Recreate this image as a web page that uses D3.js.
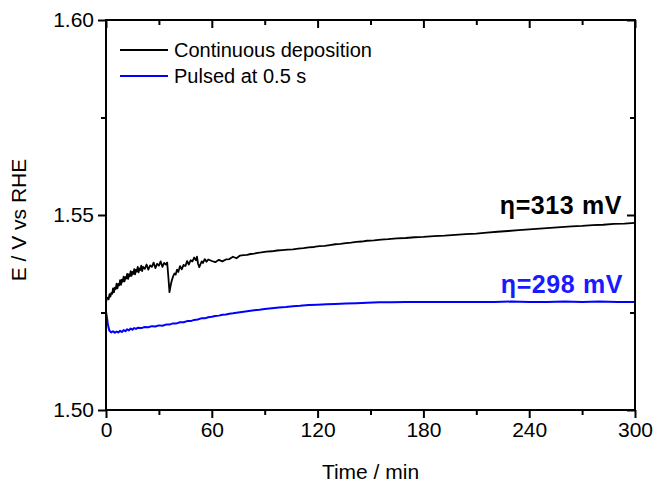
<!DOCTYPE html>
<html>
<head>
<meta charset="utf-8">
<script src="https://cdn.jsdelivr.net/npm/d3@7"></script>
<style>
  body { margin: 0; background: #fff; }
  svg text { font-family: "Liberation Sans", Arial, sans-serif; }
</style>
</head>
<body>
<div id="chart"></div>
<script>
// continuous deposition (black)
const contTime = [0,0.5,1,1.5,2,2.5,3,3.5,4,4.5,5,5.5,6,6.5,7,7.5,8,8.5,9,9.5,10,10.5,11,11.5,12,12.5,13,13.5,14,14.5,
  15,15.5,16,16.5,17,17.5,18,18.5,19,19.5,20,20.5,21,22,23,24,25,26,27,28,29,30,31,32,33,34,34.7,35.3,36,36.6,
  37.2,38,38.8,39.5,40.3,41,42,43,44,45,46,47,48,49,50,51,51.6,52.2,52.9,53.6,54.3,55,56,57,58,60,62,64,66,68,
  70,72,74,76,78,80,82,84,86,88,91,94,97,100,103,106,109,112,115,118,121,124,127,130,133,136,139,142,145,148,
  152,156,160,165,170,175,180,186,192,198,204,210,216,222,228,234,240,246,252,258,264,270,276,282,288,294,300];
const contE = [1.5277,1.5286,1.5288,1.5284,1.5297,1.5291,1.5300,1.5298,1.5312,1.5302,1.5314,1.5310,1.5324,1.5312,1.5323,1.5320,1.5333,1.5321,1.5334,1.5329,
  1.5342,1.5330,1.5341,1.5337,1.5349,1.5336,1.5348,1.5343,1.5356,1.5344,1.5354,1.5349,1.5361,1.5348,1.5360,1.5355,1.5367,1.5353,1.5363,1.5359,
  1.5370,1.5356,1.5367,1.5362,1.5373,1.5360,1.5371,1.5367,1.5378,1.5364,1.5375,1.5370,1.5381,1.5367,1.5377,1.5373,1.5378,1.5345,1.5302,1.5318,
  1.5330,1.5342,1.5350,1.5347,1.5360,1.5354,1.5369,1.5361,1.5372,1.5369,1.5382,1.5373,1.5384,1.5381,1.5391,1.5384,1.5393,1.5375,1.5366,1.5374,
  1.5381,1.5377,1.5387,1.5380,1.5386,1.5382,1.5379,1.5385,1.5381,1.5386,1.5387,1.5393,1.5389,1.5396,1.5397,1.5398,1.5400,1.5401,1.5403,1.5404,
  1.5406,1.5407,1.5409,1.5410,1.5411,1.5412,1.5414,1.5415,1.5417,1.5418,1.5420,1.5421,1.5423,1.5425,1.5426,1.5428,1.5429,1.5431,1.5432,1.5434,
  1.5435,1.5437,1.5438,1.5440,1.5441,1.5443,1.5444,1.5446,1.5447,1.5449,1.5451,1.5452,1.5455,1.5457,1.5459,1.5461,1.5463,1.5465,1.5467,1.5469,
  1.5471,1.5472,1.5474,1.5475,1.5477,1.5478,1.5480];

// pulsed at 0.5 s (blue)
const pulseTime = [0,0.5,1,1.5,2,3,4,5,6,7,8,9,10,11,12,13,14,15,16,17,18,20,22,24,26,28,30,32,34,36,38,40,42,44,46,48,
  50,52,54,56,58,60,62,64,66,68,70,72,75,78,81,84,87,90,94,98,102,106,110,115,120,125,130,136,142,148,155,162,170,180,
  190,200,210,220,230,240,250,260,270,280,290,300];
const pulseE = [1.5252,1.5238,1.5222,1.5210,1.5203,1.5199,1.5202,1.5198,1.5201,1.5199,1.5203,1.5200,1.5205,1.5202,1.5207,1.5204,1.5209,1.5206,1.5210,1.5208,
  1.5211,1.5210,1.5213,1.5212,1.5215,1.5214,1.5217,1.5216,1.5219,1.5219,1.5222,1.5222,1.5225,1.5225,1.5228,1.5228,1.5231,1.5232,1.5235,1.5235,
  1.5238,1.5239,1.5241,1.5242,1.5244,1.5245,1.5247,1.5248,1.5250,1.5252,1.5254,1.5256,1.5257,1.5259,1.5261,1.5263,1.5264,1.5266,1.5267,1.5269,
  1.5270,1.5271,1.5272,1.5273,1.5274,1.5275,1.5276,1.5276,1.5277,1.5277,1.5277,1.5277,1.5277,1.5277,1.5278,1.5277,1.5277,1.5278,1.5277,1.5278,
  1.5277,1.5277];

const xTicks = [0, 60, 120, 180, 240, 300];
const xMinor = [30, 90, 150, 210, 270];
const yTicks = [1.50, 1.55, 1.60];
const yMinor = [1.525, 1.575];

const legendLabels = ["Continuous deposition", "Pulsed at 0.5 s"];
const seriesColors = ["#000000", "#0000ff"];
const notes = ["\u03b7=313 mV", "\u03b7=298 mV"];

const width = 657, height = 483;
const margin = {top: 20, right: 22, bottom: 73, left: 106};

const svg = d3.select("#chart").append("svg")
    .attr("width", width)
    .attr("height", height);

const x = d3.scaleLinear().domain([0, 300]).range([margin.left, width - margin.right]);
const y = d3.scaleLinear().domain([1.50, 1.60]).range([height - margin.bottom, margin.top]);

const fmtY = d3.format(".2f");

// data lines
const line = d3.line().x(d => x(d[0])).y(d => y(d[1]));
const contData = contTime.map((t, i) => [t, contE[i]]);
const pulseData = pulseTime.map((t, i) => [t, pulseE[i]]);

svg.append("path").datum(contData)
    .attr("d", line).attr("fill", "none")
    .attr("stroke", seriesColors[0]).attr("stroke-width", 1.8)
    .attr("stroke-linejoin", "round");
svg.append("path").datum(pulseData)
    .attr("d", line).attr("fill", "none")
    .attr("stroke", seriesColors[1]).attr("stroke-width", 2)
    .attr("stroke-linejoin", "round");

// axes (major + minor ticks on every side)
function styleAxis(g){
    g.select(".domain").remove();
    g.selectAll("line").attr("stroke", "#000").attr("stroke-width", 2);
    g.selectAll("text").attr("font-size", "21px").attr("fill", "#000");
}

svg.append("g").attr("transform", `translate(0,${y(1.50)})`)
    .call(d3.axisBottom(x).tickValues(xTicks).tickSize(8).tickPadding(4).tickFormat(d3.format("d")))
    .call(styleAxis);
svg.append("g").attr("transform", `translate(0,${y(1.50)})`)
    .call(d3.axisBottom(x).tickValues(xMinor).tickSize(5).tickFormat(""))
    .call(styleAxis);
svg.append("g").attr("transform", `translate(0,${y(1.60)})`)
    .call(d3.axisBottom(x).tickValues(xTicks).tickSize(8).tickFormat(""))
    .call(styleAxis);
svg.append("g").attr("transform", `translate(0,${y(1.60)})`)
    .call(d3.axisBottom(x).tickValues(xMinor).tickSize(5).tickFormat(""))
    .call(styleAxis);

svg.append("g").attr("transform", `translate(${x(0)},0)`)
    .call(d3.axisLeft(y).tickValues(yTicks).tickSize(8).tickPadding(4).tickFormat(fmtY))
    .call(styleAxis);
svg.append("g").attr("transform", `translate(${x(0)},0)`)
    .call(d3.axisLeft(y).tickValues(yMinor).tickSize(5).tickFormat(""))
    .call(styleAxis);
svg.append("g").attr("transform", `translate(${x(300)},0)`)
    .call(d3.axisLeft(y).tickValues(yTicks).tickSize(8).tickFormat(""))
    .call(styleAxis);
svg.append("g").attr("transform", `translate(${x(300)},0)`)
    .call(d3.axisLeft(y).tickValues(yMinor).tickSize(5).tickFormat(""))
    .call(styleAxis);

// frame
svg.append("rect")
    .attr("x", x(0)).attr("y", y(1.60))
    .attr("width", x(300) - x(0)).attr("height", y(1.50) - y(1.60))
    .attr("fill", "none").attr("stroke", "#000").attr("stroke-width", 2);

// axis titles
svg.append("text")
    .attr("x", (x(0) + x(300)) / 2).attr("y", 479)
    .attr("text-anchor", "middle").attr("font-size", "21px")
    .text("Time / min");
svg.append("text")
    .attr("transform", `translate(26,${(y(1.50) + y(1.60)) / 2 + 5}) rotate(-90)`)
    .attr("text-anchor", "middle").attr("font-size", "21px")
    .text("E / V vs RHE");

// legend
legendLabels.forEach((lab, i) => {
    let ly = 50 + i * 26;
    svg.append("line")
        .attr("x1", 120).attr("x2", 168).attr("y1", ly).attr("y2", ly)
        .attr("stroke", seriesColors[i]).attr("stroke-width", 1.8);
    svg.append("text")
        .attr("x", 174).attr("y", ly + 7)
        .attr("font-size", "20px")
        .text(lab);
});

// overpotential notes
svg.append("text")
    .attr("x", 622).attr("y", 214)
    .attr("text-anchor", "end").attr("font-size", "25px").attr("font-weight", "bold")
    .attr("letter-spacing", "0.6px")
    .attr("fill", "#000")
    .text(notes[0]);
svg.append("text")
    .attr("x", 623).attr("y", 293)
    .attr("text-anchor", "end").attr("font-size", "25px").attr("font-weight", "bold")
    .attr("letter-spacing", "0.6px")
    .attr("fill", "#1a1aff")
    .text(notes[1]);
</script>
</body>
</html>
